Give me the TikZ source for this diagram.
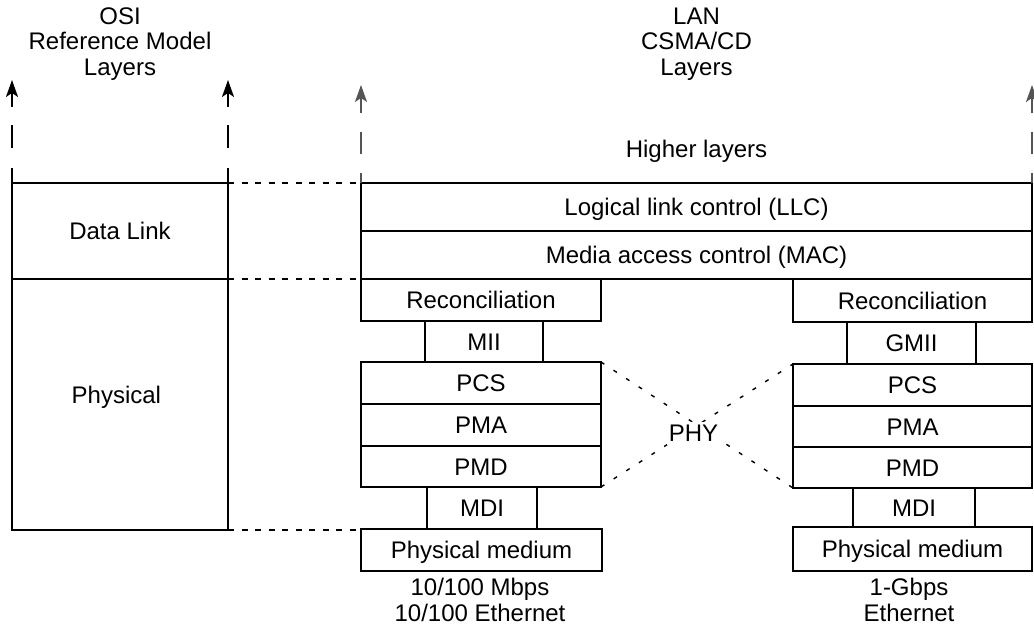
\documentclass[tikz,border=0pt]{standalone}
\usepackage{fontspec}
\setmainfont{Liberation Sans}
\usetikzlibrary{arrows.meta}
\newcommand\labfont{\fontsize{24}{25.5}\selectfont}
\definecolor{arrgray}{HTML}{555555}
\tikzset{
  every node/.style={font=\labfont},
  layerbox/.style={draw, line width=1.6pt, inner sep=0pt, outer sep=0pt,
    text height=17pt, text depth=0pt, anchor=center},
  plain/.style={inner sep=0pt, outer sep=0pt, align=center},
  osiarrow/.style={line width=1.8pt, -{Stealth[length=17pt,width=12pt,inset=4pt]},
    dash pattern=on 15pt off 20pt on 23pt off 18pt on 300pt off 1pt},
  lanarrow/.style={line width=1.8pt, draw=arrgray, -{Stealth[length=17pt,width=12pt,inset=4pt]},
    dash pattern=on 10pt off 19pt on 22pt off 19pt on 300pt off 1pt},
  levelline/.style={line width=1.6pt, dash pattern=on 6pt off 7.5pt},
  phyline/.style={line width=1.4pt, dash pattern=on 4pt off 11pt},
}
\begin{document}
\begin{tikzpicture}[x=1pt,y=-1pt]
\useasboundingbox (0,0) rectangle (1034,632);

% OSI column
\node[layerbox, minimum width=216pt, minimum height=96pt] (osiDL) at (120,231) {Data Link};
\node[layerbox, minimum width=216pt, minimum height=251pt] (osiPh) at (120,404.5) {};
\node[plain, anchor=base] (osiPhT) at (116.4,403) {Physical};

% LAN common layers
\node[layerbox, minimum width=671pt, minimum height=48pt] (llc) at (696.5,207) {Logical link control (LLC)};
\node[layerbox, minimum width=671pt, minimum height=48pt] (mac) at (696.5,255) {Media access control (MAC)};

% 10/100 column
\node[layerbox, minimum width=240pt, minimum height=42pt] (recL) at (481,300) {Reconciliation};
\node[layerbox, minimum width=118pt, minimum height=41pt] (mii) at (484,341.5) {MII};
\node[layerbox, minimum width=240pt, minimum height=42pt] (pcsL) at (481,383) {PCS};
\node[layerbox, minimum width=240pt, minimum height=42pt] (pmaL) at (481,425) {PMA};
\node[layerbox, minimum width=240pt, minimum height=41pt] (pmdL) at (481,466.5) {PMD};
\node[layerbox, minimum width=110pt, minimum height=42pt] (mdiL) at (482,508) {MDI};
\node[layerbox, minimum width=241pt, minimum height=42pt] (physL) at (481.5,550) {Physical medium};

% 1-Gbps column
\node[layerbox, minimum width=239pt, minimum height=43pt] (recR) at (912.5,300.5) {Reconciliation};
\node[layerbox, minimum width=129pt, minimum height=42pt] (gmii) at (911.5,343) {GMII};
\node[layerbox, minimum width=239pt, minimum height=42pt] (pcsR) at (912.5,385) {PCS};
\node[layerbox, minimum width=239pt, minimum height=41pt] (pmaR) at (912.5,426.5) {PMA};
\node[layerbox, minimum width=239pt, minimum height=41pt] (pmdR) at (912.5,467.5) {PMD};
\node[layerbox, minimum width=122pt, minimum height=39pt] (mdiR) at (914,507.5) {MDI};
\node[layerbox, minimum width=239pt, minimum height=44pt] (physR) at (912.5,549) {Physical medium};

% titles and captions
\node[plain] (osiT) at (120,44) {OSI\\Reference Model\\Layers};
\node[plain] (lanT) at (696.5,44) {LAN\\CSMA/CD\\Layers};
\node[plain, anchor=base] (higher) at (696.5,157) {Higher layers};
\node[plain] (capL) at (480,600) {10/100 Mbps\\10/100 Ethernet};
\node[plain] (capR) at (909,600) {1-Gbps\\Ethernet};

% upward dashed arrows
\coordinate (tipA) at (12,80);
\coordinate (tipB) at (228,80);
\coordinate (tipC) at (361,85);
\coordinate (tipD) at (1032,85);
\draw[osiarrow] (osiDL.north west) -- (tipA);
\draw[osiarrow] (osiDL.north east) -- (tipB);
\draw[lanarrow] (llc.north west) -- (tipC);
\draw[lanarrow] (llc.north east) -- (tipD);

% level connectors
\draw[levelline] (osiDL.north east) -- (llc.north west);
\draw[levelline] (osiDL.south east) -- (mac.south west);
\draw[levelline] (osiPh.south east) -- (osiPh.south east -| physL.west);

% PHY cross
\draw[phyline] (pcsL.north east) -- (pmdR.south west);
\draw[phyline] (pmdL.south east) -- (pcsR.north west);
\node[plain, fill=white, inner sep=2pt, text height=17pt, text depth=2pt] (phy) at (693.5,433.5) {PHY};
\end{tikzpicture}
\end{document}
